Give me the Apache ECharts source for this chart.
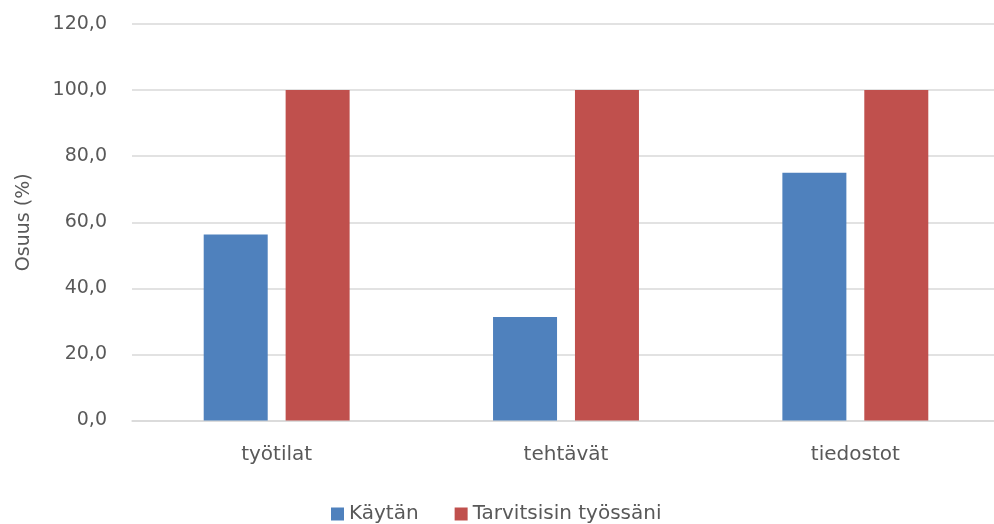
<!DOCTYPE html>
<html>
<head>
<meta charset="utf-8">
<script src="https://cdn.jsdelivr.net/npm/echarts@6/dist/echarts.min.js"></script>
<style>
  html, body { margin: 0; padding: 0; background: #fff; overflow: hidden; }
  #chart { width: 1000px; height: 524px; }
</style>
</head>
<body>
<div id="chart"></div>
<script>
// kategoriat ja arvot (%)
const categories = ['työtilat', 'tehtävät', 'tiedostot'];
const kaytan = [56.3, 31.3, 75.0];
const tarvitsisin = [100.0, 100.0, 100.0];
const seriesNames = ['Käytän', 'Tarvitsisin työssäni'];

const textColor = '#595959';
const font = '"DejaVu Sans", Verdana, sans-serif';

// kaavion oikea reuna jatkuu kuvan ulkopuolelle
const chart = echarts.init(document.getElementById('chart'));
const option = {
    color: ['#4F81BD', '#C0504D'],
    textStyle: { fontFamily: font },
    grid: {
        left: 132,
        right: 0,
        top: 24,
        bottom: 103.5
    },
    legend: {
        bottom: -5,
        left: 326,
        itemWidth: 13,
        itemHeight: 13,
        itemGap: 36,
        icon: 'rect',
        textStyle: { color: textColor, fontSize: 20, fontFamily: font },
        data: seriesNames
    },
    xAxis: {
        type: 'category',
        data: categories,
        axisLine: { lineStyle: { color: '#D9D9D9', width: 1.5 } },
        axisTick: { show: false },
        axisLabel: { color: textColor, fontSize: 20, margin: 24, fontFamily: font }
    },
    yAxis: {
        type: 'value',
        min: 0,
        max: 120,
        interval: 20,
        name: 'Osuus (%)',
        nameLocation: 'middle',
        nameGap: 98,
        nameRotate: 90,
        nameTextStyle: { color: textColor, fontSize: 19, fontFamily: font },
        axisLine: { show: false },
        axisTick: { show: false },
        axisLabel: {
            color: textColor,
            fontSize: 19,
            margin: 25,
            fontFamily: font,
            formatter: function (v) { return v.toFixed(1).replace('.', ','); }
        },
        splitLine: { lineStyle: { color: '#D9D9D9', width: 1.5 } }
    },
    series: [
        {
            name: seriesNames[0],
            type: 'bar',
            data: kaytan,
            barWidth: 64,
            barGap: '28%'
        },
        {
            name: seriesNames[1],
            type: 'bar',
            data: tarvitsisin,
            barWidth: 64,
            barGap: '28%'
        }
    ]
};
chart.setOption(option);
</script>
</body>
</html>
